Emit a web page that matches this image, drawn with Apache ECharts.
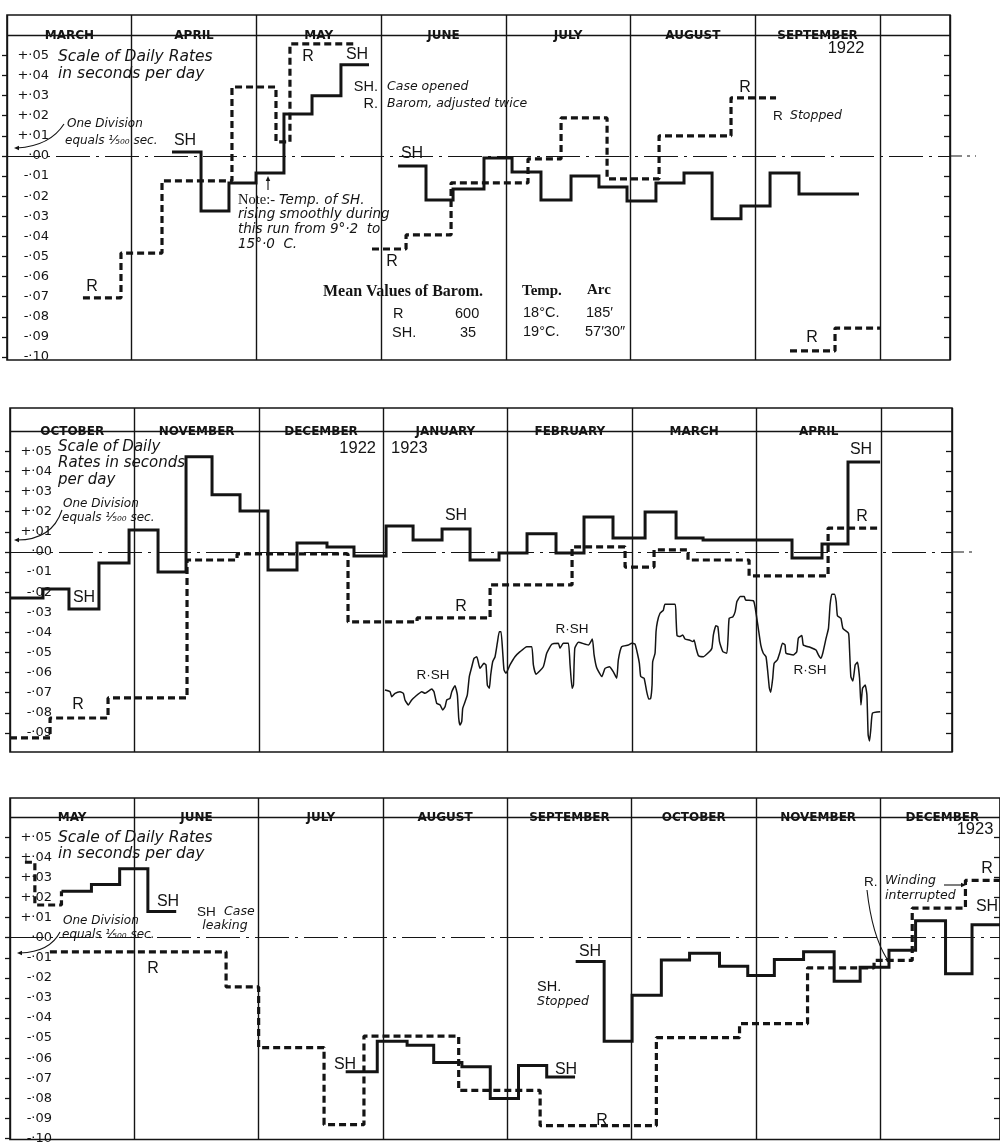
<!DOCTYPE html>
<html>
<head>
<meta charset="utf-8">
<script src="https://cdn.jsdelivr.net/npm/echarts@6/dist/echarts.min.js"></script>
<style>
html, body { margin: 0; padding: 0; background: #fff; }
#chart { width: 1000px; height: 1145px; }
</style>
</head>
<body>
<div id="chart"></div>
<script>
// x values are in months from the left edge of each panel, y values in seconds per day

// --- tick labels (shared by the three panels)
var yTickValues = [0.05, 0.04, 0.03, 0.02, 0.01, 0, -0.01, -0.02, -0.03, -0.04, -0.05, -0.06, -0.07, -0.08, -0.09, -0.10];
var yTickLabels = ['+·05', '+·04', '+·03', '+·02', '+·01', '·00', '-·01', '-·02', '-·03', '-·04', '-·05', '-·06', '-·07', '-·08', '-·09', '-·10'];
var rightTickValues = [0.05, 0.04, 0.03, 0.02, 0.01, -0.01, -0.02, -0.03, -0.04, -0.05, -0.06, -0.07, -0.08, -0.09];

// --- panel 1 : March - September 1922
var months1 = ['MARCH', 'APRIL', 'MAY', 'JUNE', 'JULY', 'AUGUST', 'SEPTEMBER'];
var sh1aX = [1.323, 1.556, 1.780, 1.997, 2.221, 2.446, 2.678, 2.903];
var sh1aY = [0.0020, -0.0274, -0.0134, -0.0085, 0.0209, 0.0299, 0.0453, 0.0453];
var sh1bX = [3.136, 3.360, 3.577, 3.825, 4.050, 4.282, 4.523, 4.747, 4.972, 5.204, 5.429, 5.654, 5.886, 6.119, 6.351, 6.832];
var sh1bY = [-0.0050, -0.0219, -0.0164, -0.0010, -0.0080, -0.0219, -0.0100, -0.0154, -0.0224, -0.0134, -0.0085, -0.0313, -0.0249, -0.0085, -0.0189, -0.0189];
var r1aX = [0.609, 0.914, 1.243, 1.804, 2.157, 2.269, 2.791];
var r1aY = [-0.0706, -0.0483, -0.0124, 0.0343, 0.0070, 0.0557, 0.0557];
var r1bX = [2.927, 3.200, 3.561, 4.178, 4.443, 4.812, 5.229, 5.806, 6.167];
var r1bY = [-0.0463, -0.0393, -0.0134, -0.0015, 0.0189, -0.0114, 0.0100, 0.0289, 0.0289];
var r1cX = [6.279, 6.640, 7.001];
var r1cY = [-0.0970, -0.0856, -0.0856];

// --- panel 2 : October 1922 - April 1923
var months2 = ['OCTOBER', 'NOVEMBER', 'DECEMBER', 'JANUARY', 'FEBRUARY', 'MARCH', 'APRIL'];
var sh2X = [0, 0.265, 0.474, 0.715, 0.957, 1.190, 1.415, 1.624, 1.849, 2.074, 2.307, 2.548, 2.765, 3.023, 3.240, 3.473, 3.698, 3.931, 4.156, 4.389, 4.614, 4.847, 5.105, 5.354, 5.571, 6.286, 6.527, 6.736, 6.994];
var sh2Y = [-0.0229, -0.0184, -0.0284, -0.0055, 0.0109, -0.0100, 0.0473, 0.0284, 0.0204, -0.0090, 0.0045, 0.0025, -0.0020, 0.0129, 0.0060, 0.0114, -0.0040, -0.0005, 0.0090, -0.0005, 0.0174, 0.0070, 0.0199, 0.0070, 0.0060, -0.0030, 0.0040, 0.0448, 0.0448];
var r2X = [0, 0.322, 0.788, 1.423, 1.825, 2.717, 3.272, 3.859, 4.518, 4.944, 5.177, 5.450, 5.941, 6.576, 6.994];
var r2Y = [-0.0925, -0.0826, -0.0726, -0.0040, -0.0010, -0.0348, -0.0328, -0.0164, 0.0025, -0.0075, 0.0010, -0.0040, -0.0119, 0.0119, 0.0119];
var rshX = [3.014, 3.055, 3.068, 3.095, 3.135, 3.162, 3.175, 3.202, 3.229, 3.256,
  3.310, 3.336, 3.390, 3.408, 3.430, 3.457, 3.478, 3.497, 3.511, 3.537,
  3.551, 3.577, 3.596, 3.607, 3.617, 3.631, 3.639, 3.658, 3.676, 3.692,
  3.712, 3.730, 3.752, 3.778, 3.810, 3.826, 3.837, 3.853, 3.864, 3.880,
  3.899, 3.917, 3.933, 3.947, 3.961, 3.971, 3.987, 4.019, 4.059, 4.100,
  4.154, 4.194, 4.207, 4.228, 4.287, 4.314, 4.355, 4.408, 4.421, 4.448,
  4.488, 4.502, 4.518, 4.529, 4.540, 4.569, 4.649, 4.681, 4.695, 4.716,
  4.757, 4.783, 4.818, 4.850, 4.877, 4.890, 4.917, 4.970, 4.998, 5.024,
  5.043, 5.059, 5.070, 5.097, 5.118, 5.134, 5.150, 5.161, 5.166, 5.185,
  5.193, 5.204, 5.225, 5.252, 5.265, 5.346, 5.354, 5.362, 5.386, 5.408,
  5.426, 5.461, 5.489, 5.499, 5.515, 5.534, 5.574, 5.622, 5.642, 5.654,
  5.674, 5.690, 5.703, 5.730, 5.762, 5.773, 5.781, 5.811, 5.829, 5.843,
  5.870, 5.902, 5.913, 5.977, 5.997, 6.015, 6.035, 6.055, 6.077, 6.091,
  6.104, 6.115, 6.131, 6.142, 6.168, 6.190, 6.209, 6.230, 6.238, 6.297,
  6.324, 6.337, 6.365, 6.377, 6.431, 6.479, 6.498, 6.517, 6.533, 6.560,
  6.579, 6.592, 6.606, 6.627, 6.641, 6.651, 6.679, 6.695, 6.740, 6.748,
  6.759, 6.775, 6.794, 6.812, 6.829, 6.840, 6.853, 6.874, 6.888, 6.898,
  6.909, 6.920, 6.933, 6.995];
var rshY = [-0.0687, -0.0695, -0.0720, -0.0703, -0.0695, -0.0703, -0.0736, -0.0761, -0.0736, -0.0720,
  -0.0695, -0.0703, -0.0682, -0.0695, -0.0753, -0.0761, -0.0786, -0.0770, -0.0736, -0.0728,
  -0.0695, -0.0665, -0.0711, -0.0827, -0.0861, -0.0844, -0.0778, -0.0745, -0.0711, -0.0620,
  -0.0571, -0.0529, -0.0521, -0.0579, -0.0554, -0.0562, -0.0662, -0.0678, -0.0612, -0.0546,
  -0.0521, -0.0454, -0.0397, -0.0397, -0.0504, -0.0587, -0.0603, -0.0562, -0.0521, -0.0496,
  -0.0471, -0.0471, -0.0562, -0.0608, -0.0571, -0.0504, -0.0459, -0.0454, -0.0479, -0.0454,
  -0.0454, -0.0562, -0.0678, -0.0662, -0.0479, -0.0449, -0.0463, -0.0433, -0.0512, -0.0576,
  -0.0620, -0.0579, -0.0571, -0.0596, -0.0628, -0.0537, -0.0471, -0.0463, -0.0454, -0.0459,
  -0.0504, -0.0554, -0.0620, -0.0628, -0.0695, -0.0731, -0.0728, -0.0662, -0.0546, -0.0504,
  -0.0397, -0.0347, -0.0305, -0.0289, -0.0260, -0.0260, -0.0330, -0.0416, -0.0421, -0.0413,
  -0.0433, -0.0438, -0.0446, -0.0438, -0.0479, -0.0516, -0.0521, -0.0496, -0.0479, -0.0413,
  -0.0367, -0.0372, -0.0446, -0.0496, -0.0504, -0.0413, -0.0330, -0.0322, -0.0297, -0.0247,
  -0.0222, -0.0222, -0.0239, -0.0244, -0.0305, -0.0380, -0.0463, -0.0504, -0.0521, -0.0596,
  -0.0678, -0.0698, -0.0628, -0.0554, -0.0537, -0.0496, -0.0454, -0.0463, -0.0504, -0.0512,
  -0.0496, -0.0429, -0.0416, -0.0463, -0.0474, -0.0488, -0.0512, -0.0529, -0.0504, -0.0429,
  -0.0380, -0.0264, -0.0210, -0.0210, -0.0247, -0.0317, -0.0330, -0.0380, -0.0404, -0.0479,
  -0.0620, -0.0642, -0.0562, -0.0549, -0.0628, -0.0761, -0.0678, -0.0662, -0.0711, -0.0910,
  -0.0940, -0.0877, -0.0802, -0.0795];

// --- panel 3 : May - December 1923
var months3 = ['MAY', 'JUNE', 'JULY', 'AUGUST', 'SEPTEMBER', 'OCTOBER', 'NOVEMBER', 'DECEMBER'];
var sh3LeadX = [0.12, 0.20, 0.414];
var sh3LeadY = [0.0376, 0.0163, 0.0232];
var sh3aX = [0.414, 0.655, 0.882, 1.109, 1.337];
var sh3aY = [0.0232, 0.0265, 0.0343, 0.0131, 0.0131];
var sh3bX = [2.700, 2.954, 3.194, 3.408, 3.635, 3.863, 4.090, 4.317, 4.545];
var sh3bY = [-0.0667, -0.0515, -0.0536, -0.0621, -0.0642, -0.0801, -0.0637, -0.0694, -0.0694];
var sh3cX = [4.550, 4.779, 5.004, 5.239, 5.466, 5.707, 5.934, 6.148, 6.383, 6.629, 6.838, 7.070, 7.284, 7.525, 7.738, 7.963];
var sh3cY = [-0.0119, -0.0515, -0.0286, -0.0111, -0.0077, -0.0142, -0.0188, -0.0109, -0.0070, -0.0217, -0.0147, -0.0062, 0.0085, -0.0180, 0.0065, 0.0065];
var r3X = [0.321, 1.738, 2.000, 2.526, 2.847, 3.609, 4.264, 5.199, 5.868, 6.415, 6.950, 7.257, 7.685, 7.963];
var r3Y = [-0.0070, -0.0245, -0.0547, -0.0931, -0.0490, -0.0760, -0.0936, -0.0498, -0.0428, -0.0150, -0.0113, 0.0147, 0.0286, 0.0286];

var INK = '#141414';
var SANS = '"DejaVu Sans", "Liberation Sans", sans-serif';
var LSANS = '"Liberation Sans", Arial, sans-serif';
var SERIF = '"Liberation Serif", "DejaVu Serif", serif';

// pixel frames of the three panels (layout only)
var panels = [
    { left: 7, top: 15, width: 943, height: 345, xMax: 7.562, yMin: -0.1015, yMax: 0.0701, header: 0.0567, months: months1 },
    { left: 10, top: 408, width: 942, height: 344, xMax: 7.572, yMin: -0.0995, yMax: 0.0716, header: 0.0572, months: months2 },
    { left: 10, top: 798, width: 993, height: 346, xMax: 7.963, yMin: -0.1005, yMax: 0.0696, header: 0.0569, months: months3 }
];

function pairs(xs, ys) {
    var out = [];
    for (var i = 0; i < Math.min(xs.length, ys.length); i++) out.push([xs[i], ys[i]]);
    return out;
}

function tickText(v) {
    for (var i = 0; i < yTickValues.length; i++) {
        if (Math.abs(yTickValues[i] - v) < 1e-6) return yTickLabels[i];
    }
    return '';
}

function stepLine(p, xs, ys, dashed) {
    return {
        type: 'line', xAxisIndex: p, yAxisIndex: p * 2, step: 'end',
        data: pairs(xs, ys), showSymbol: false, silent: true, animation: false, z: dashed ? 4 : 5,
        lineStyle: dashed ? { color: INK, width: 3.2, type: [7, 4], cap: 'butt' } : { color: INK, width: 3, join: 'miter' }
    };
}

var grids = [], xAxes = [], yAxes = [], series = [];
panels.forEach(function (p, i) {
    grids.push({ left: p.left, top: p.top, width: p.width, height: p.height, show: true,
        borderColor: INK, borderWidth: 1.6, backgroundColor: 'transparent' });
    xAxes.push({ gridIndex: i, type: 'value', min: 0, max: p.xMax, interval: 1,
        axisLine: { show: false }, axisTick: { show: false }, axisLabel: { show: false },
        splitLine: { show: true, lineStyle: { color: INK, width: 1.4 } } });
    yAxes.push({ gridIndex: i, type: 'value', min: p.yMin, max: p.yMax, position: 'left',
        axisLine: { show: false }, splitLine: { show: false },
        axisTick: { show: true, inside: false, length: 5, customValues: yTickValues, lineStyle: { color: INK, width: 1.3 } },
        axisLabel: { show: true, inside: true, margin: 42, align: 'right', customValues: yTickValues, formatter: tickText,
            color: INK, fontFamily: SANS, fontSize: 13 } });
    yAxes.push({ gridIndex: i, type: 'value', min: p.yMin, max: p.yMax, position: 'right',
        axisLine: { show: false }, splitLine: { show: false }, axisLabel: { show: false },
        axisTick: { show: true, inside: true, length: 6, customValues: rightTickValues, lineStyle: { color: INK, width: 1.3 } } });
    // month names in the header row, plus header rule and zero line
    series.push({
        type: 'scatter', xAxisIndex: i, yAxisIndex: i * 2, symbol: 'rect', symbolSize: 1, silent: true, animation: false,
        itemStyle: { color: '#ffffff', opacity: 0 },
        data: p.months.map(function (m, k) { return { name: m, value: [k + 0.5, 0.0597] }; }),
        label: { show: true, position: 'inside', formatter: '{b}', color: INK, opacity: 1,
            fontFamily: SANS, fontWeight: 'bold', fontSize: 12 },
        markLine: {
            silent: true, animation: false, symbol: ['none', 'none'], label: { show: false },
            data: [
                { yAxis: p.header, lineStyle: { color: INK, width: 1.4, type: 'solid' } },
                { yAxis: 0, lineStyle: { color: INK, width: 1.1, type: [34, 6, 3, 6] } }
            ]
        }
    });
});

series.push(stepLine(0, sh1aX, sh1aY, false));
series.push(stepLine(0, sh1bX, sh1bY, false));
series.push(stepLine(0, r1aX, r1aY, true));
series.push(stepLine(0, r1bX, r1bY, true));
series.push(stepLine(0, r1cX, r1cY, true));

series.push(stepLine(1, sh2X, sh2Y, false));
series.push(stepLine(1, r2X, r2Y, true));
series.push({
    type: 'line', xAxisIndex: 1, yAxisIndex: 2, data: pairs(rshX, rshY), smooth: 0.15,
    showSymbol: false, silent: true, animation: false, lineStyle: { color: INK, width: 1.5 }
});

series.push(stepLine(2, sh3LeadX, sh3LeadY, true));
series.push(stepLine(2, sh3aX, sh3aY, false));
series.push(stepLine(2, sh3bX, sh3bY, false));
series.push(stepLine(2, sh3cX, sh3cY, false));
series.push(stepLine(2, r3X, r3Y, true));

// annotations
function txt(x, y, s, font, align) {
    return { type: 'text', x: x, y: y, silent: true,
        style: { text: s, font: font, fill: INK, textAlign: align || 'left', textVerticalAlign: 'middle' } };
}
var SCALE = 'italic 15.5px ' + SANS;
var SCALE2 = 'italic 15px ' + SANS;
var DIV = 'italic 12px ' + SANS;
var NOTE = 'italic 12.5px ' + SANS;
var NOTE2 = 'italic 13.5px ' + SANS;
var LAB = '16px ' + LSANS;
var SM = '14.5px ' + LSANS;
var SM2 = '13.5px ' + LSANS;
var YR = '16.5px ' + LSANS;

var notes = [
    // panel 1
    txt(58, 57, 'Scale of Daily Rates', SCALE), txt(58, 74, 'in seconds per day', SCALE),
    txt(67, 124, 'One Division', DIV), txt(65, 141, 'equals ¹⁄₅₀₀ sec.', DIV),
    txt(185, 141, 'SH', LAB, 'center'), txt(92, 287, 'R', LAB, 'center'),
    txt(308, 57, 'R', LAB, 'center'), txt(357, 55, 'SH', LAB, 'center'),
    txt(378, 87, 'SH.', SM, 'right'), txt(387, 87, 'Case opened', NOTE),
    txt(378, 104, 'R.', SM, 'right'), txt(387, 104, 'Barom, adjusted twice', NOTE),
    txt(412, 154, 'SH', LAB, 'center'), txt(392, 262, 'R', LAB, 'center'),
    txt(238, 200, 'Note:-', '14.5px ' + SERIF), txt(279, 200, 'Temp. of SH.', NOTE2),
    txt(238, 214, 'rising smoothly during', NOTE2), txt(238, 229, 'this run from 9°·2  to', NOTE2),
    txt(238, 244, '15°·0  C.', NOTE2),
    txt(323, 292, 'Mean Values of Barom.', 'bold 16px ' + SERIF), txt(522, 291, 'Temp.', 'bold 15px ' + SERIF),
    txt(587, 290, 'Arc', 'bold 15px ' + SERIF),
    txt(393, 314, 'R', SM), txt(455, 314, '600', SM), txt(523, 313, '18°C.', SM), txt(586, 313, '185′', SM),
    txt(392, 333, 'SH.', SM), txt(460, 333, '35', SM), txt(523, 332, '19°C.', SM), txt(585, 332, '57′30″', SM),
    txt(745, 88, 'R', LAB, 'center'), txt(773, 116, 'R', SM2), txt(790, 116, 'Stopped', NOTE),
    txt(812, 338, 'R', LAB, 'center'), txt(846, 48, '1922', YR, 'center'),
    // panel 2
    txt(58, 447, 'Scale of Daily', SCALE2), txt(58, 463, 'Rates in seconds', SCALE2), txt(58, 480, 'per day', SCALE2),
    txt(63, 504, 'One Division', DIV), txt(62, 518, 'equals ¹⁄₅₀₀ sec.', DIV),
    txt(376, 448, '1922', YR, 'right'), txt(391, 448, '1923', YR),
    txt(84, 598, 'SH', LAB, 'center'), txt(456, 516, 'SH', LAB, 'center'), txt(861, 450, 'SH', LAB, 'center'),
    txt(78, 705, 'R', LAB, 'center'), txt(461, 607, 'R', LAB, 'center'), txt(862, 517, 'R', LAB, 'center'),
    txt(433, 675, 'R·SH', SM2, 'center'), txt(572, 629, 'R·SH', SM2, 'center'), txt(810, 670, 'R·SH', SM2, 'center'),
    // panel 3
    txt(58, 838, 'Scale of Daily Rates', SCALE), txt(58, 854, 'in seconds per day', SCALE),
    txt(63, 921, 'One Division', DIV), txt(62, 935, 'equals ¹⁄₅₀₀ sec.', DIV),
    txt(168, 902, 'SH', LAB, 'center'), txt(197, 912, 'SH', SM2), txt(224, 912, 'Case', NOTE),
    txt(225, 926, 'leaking', NOTE, 'center'), txt(153, 969, 'R', LAB, 'center'),
    txt(345, 1065, 'SH', LAB, 'center'), txt(566, 1070, 'SH', LAB, 'center'), txt(590, 952, 'SH', LAB, 'center'),
    txt(537, 987, 'SH.', SM), txt(537, 1002, 'Stopped', NOTE), txt(602, 1121, 'R', LAB, 'center'),
    txt(864, 882, 'R.', SM2), txt(885, 881, 'Winding', NOTE), txt(885, 896, 'interrupted', NOTE),
    txt(987, 869, 'R', LAB, 'center'), txt(987, 907, 'SH', LAB, 'center'), txt(975, 829, '1923', YR, 'center')
];

function arrowHead(x, y, dx, dy) {
    var len = Math.sqrt(dx * dx + dy * dy), ux = dx / len, uy = dy / len, s = 5;
    return { type: 'polygon', silent: true, style: { fill: INK },
        shape: { points: [[x, y], [x - ux * s - uy * s * 0.45, y - uy * s + ux * s * 0.45], [x - ux * s + uy * s * 0.45, y - uy * s - ux * s * 0.45]] } };
}
function curve(x1, y1, cx, cy, x2, y2) {
    return { type: 'bezierCurve', silent: true, shape: { x1: x1, y1: y1, cpx1: cx, cpy1: cy, x2: x2, y2: y2 },
        style: { stroke: INK, lineWidth: 1.1, fill: null } };
}
function seg(x1, y1, x2, y2, dash) {
    return { type: 'line', silent: true, shape: { x1: x1, y1: y1, x2: x2, y2: y2 },
        style: { stroke: INK, lineWidth: 1.1, lineDash: dash || null } };
}
var arrows = [
    curve(64, 124, 50, 146, 17, 148), arrowHead(14, 148, -1, 0),
    curve(62, 510, 52, 540, 17, 540), arrowHead(14, 540, -1, 0),
    curve(60, 932, 50, 952, 20, 953), arrowHead(17, 953, -1, 0),
    seg(268, 190, 268, 179), arrowHead(268, 176, 0, -1),
    curve(867, 890, 872, 935, 887, 959), arrowHead(889, 963, 0.45, 1),
    seg(944, 885, 962, 885), arrowHead(966, 885, 1, 0),
    // zero line running on past the right edge of the upper panels
    seg(950, 156, 976, 156, [12, 5, 3, 5]), seg(952, 552, 976, 552, [12, 5, 3, 5])
];

var chart = echarts.init(document.getElementById('chart'), null, { renderer: 'canvas' });
chart.setOption({
    backgroundColor: '#ffffff',
    animation: false,
    grid: grids,
    xAxis: xAxes,
    yAxis: yAxes,
    series: series,
    graphic: notes.concat(arrows)
});
</script>
</body>
</html>
